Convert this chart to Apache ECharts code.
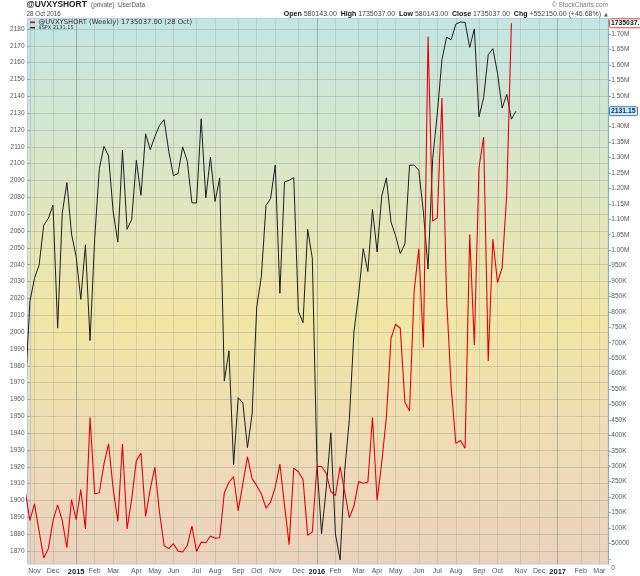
<!DOCTYPE html>
<html>
<head>
<meta charset="utf-8">
<script src="https://cdn.jsdelivr.net/npm/echarts@6/dist/echarts.min.js"></script>
<style>
html, body {margin: 0; padding: 0; background: #fff;}
#main {width: 640px; height: 576px;}
</style>
</head>
<body>
<div id="main"></div>
<script>
// weekly bars, bar 0 = week ending 31 Oct 2014 (first value is bar -1)
const spxWeekly = [
    1964.58, 2018.05, 2031.92, 2039.82, 2063.50, 2067.56, 2075.37, 2002.33, 2070.65, 2088.77,
    2058.20, 2044.81, 2019.42, 2051.82, 1994.99, 2055.47, 2096.99, 2110.30, 2104.50, 2071.26,
    2053.40, 2108.10, 2061.02, 2066.96, 2102.06, 2081.18, 2117.69, 2108.29, 2116.10, 2122.73,
    2126.06, 2107.39, 2092.83, 2094.11, 2109.99, 2101.49, 2076.78, 2076.62, 2126.64, 2079.65,
    2103.84, 2077.57, 2091.54, 1970.89, 1988.87, 1921.22, 1961.05, 1958.03, 1931.34, 1951.36,
    2014.89, 2033.11, 2075.15, 2079.36, 2099.20, 2023.04, 2089.17, 2090.11, 2091.69, 2012.37,
    2005.55, 2060.99, 2043.94, 1922.03, 1880.33, 1906.90, 1940.24, 1880.05, 1864.78, 1917.78,
    1948.05, 1999.99, 2022.19, 2049.58, 2035.94, 2072.78, 2047.60, 2080.73, 2091.58, 2065.30,
    2057.14, 2046.61, 2052.32, 2099.06, 2099.13, 2096.07, 2071.22, 2037.41, 2102.95, 2129.90,
    2161.74, 2175.03, 2173.60, 2182.87, 2184.05, 2183.87, 2169.04, 2179.98, 2127.81, 2139.16,
    2164.69, 2168.27, 2153.74, 2132.98, 2141.16, 2126.41, 2131.15
];
const uvxyShortWeekly = [
    220000, 124000, 178000, 89000, 3000, 33000, 124000, 175000, 124000, 36000,
    192000, 127000, 224000, 97000, 458000, 210000, 214000, 307000, 372000, 226000,
    121000, 372000, 97000, 194000, 318000, 343000, 137000, 226000, 297000, 151000,
    43000, 33000, 49000, 25000, 22000, 43000, 106000, 24000, 54000, 52000,
    74000, 67000, 68000, 214000, 248000, 266000, 156000, 243000, 331000, 259000,
    237000, 210000, 164000, 184000, 232000, 307000, 173000, 46000, 294000, 282000,
    257000, 76000, 87000, 300000, 299000, 277000, 218000, 205000, 299000, 216000,
    133000, 171000, 250000, 245000, 248000, 458000, 189000, 313000, 458000, 714000,
    760000, 747000, 507000, 480000, 867000, 1005000, 685000, 1692000, 1094000, 1105000,
    1493000, 846000, 555000, 374000, 383000, 358000, 1051000, 693000, 1266000, 1366000,
    641000, 1035000, 895000, 943000, 1182887, 1735037
];
// first bar of each month
const monthBars = [1, 5, 10, 14, 18, 23, 27, 31, 36, 40, 45, 49, 53, 58, 62, 66, 71, 75, 79, 84, 88, 92, 97, 101, 106, 110, 114, 119, 123];
const monthLabels = ['Nov', 'Dec', '2015', 'Feb', 'Mar', 'Apr', 'May', 'Jun', 'Jul', 'Aug', 'Sep', 'Oct', 'Nov', 'Dec',
    '2016', 'Feb', 'Mar', 'Apr', 'May', 'Jun', 'Jul', 'Aug', 'Sep', 'Oct', 'Nov', 'Dec', '2017', 'Feb', 'Mar'];
const spxTicks = [1870, 1880, 1890, 1900, 1910, 1920, 1930, 1940, 1950, 1960, 1970, 1980, 1990, 2000, 2010, 2020,
    2030, 2040, 2050, 2060, 2070, 2080, 2090, 2100, 2110, 2120, 2130, 2140, 2150, 2160, 2170, 2180];
const uvxyTicks = [0, 50000, 100000, 150000, 200000, 250000, 300000, 350000, 400000, 450000, 500000, 550000,
    600000, 650000, 700000, 750000, 800000, 850000, 900000, 950000, 1000000, 1050000, 1100000, 1150000,
    1200000, 1250000, 1300000, 1350000, 1400000, 1450000, 1500000, 1550000, 1600000, 1650000, 1700000];
// 1.45M is hidden behind the $SPX value box
const uvxyLabelValues = uvxyTicks.filter(function (v) { return v !== 1450000; });

const lastSpx = spxWeekly[spxWeekly.length - 1];
const lastUvxy = uvxyShortWeekly[uvxyShortWeekly.length - 1];

let myChart = echarts.init(document.getElementById('main'));

function isYear(label) {
    return /^\d{4}$/.test(label);
}

function uvxyLabel(v) {
    if (v === 0) return '{z|0}';
    if (v < 100000) return String(v);
    if (v < 1000000) return (v / 1000) + 'K';
    return (v / 1000000).toFixed(2) + 'M';
}

const bg = new echarts.graphic.LinearGradient(0, 0, 0, 1, [
    {offset: 0, color: '#c3e5e3'},
    {offset: 0.25, color: '#d8e6ca'},
    {offset: 0.55, color: '#f1e6a6'},
    {offset: 0.8, color: '#eedbb6'},
    {offset: 1, color: '#ebd2bf'}
]);

let option = {
    animation: false,
    grid: {
        left: 27.5, right: 31.7, top: 18.3, bottom: 10.7,
        show: true,
        backgroundColor: bg,
        borderColor: '#b4d0dc',
        borderWidth: 1
    },
    xAxis: {
        type: 'value',
        min: -0.51,
        max: 124.93,
        axisLine: {show: false},
        axisTick: {show: false, customValues: monthBars},
        axisLabel: {
            customValues: monthBars,
            margin: 4,
            fontFamily: 'Liberation Sans',
            fontSize: 7,
            color: '#555',
            formatter: function (v) {
                let label = monthLabels[monthBars.indexOf(Math.round(v))] || '';
                return isYear(label) ? '{y|' + label + '}' : label;
            },
            rich: {
                y: {fontWeight: 'bold', color: '#222', fontSize: 7.5, fontFamily: 'Liberation Sans'}
            }
        },
        splitLine: {
            show: true,
            lineStyle: {
                width: 1,
                color: monthLabels.map(function (l) {
                    return isYear(l) ? 'rgba(110,135,110,0.55)' : 'rgba(130,140,125,0.25)';
                })
            }
        }
    },
    yAxis: [
        {
            type: 'value',
            position: 'left',
            min: 1862.3,
            max: 2186.3,
            axisLine: {show: true, lineStyle: {color: '#a9cadb'}},
            axisTick: {show: true, length: 2.5, customValues: spxTicks, lineStyle: {color: '#999'}},
            axisLabel: {
                customValues: spxTicks,
                margin: 3,
                fontFamily: 'Liberation Sans',
                fontSize: 6.5,
                color: '#555',
                formatter: function (v) { return String(v); }
            },
            splitLine: {show: true, lineStyle: {color: 'rgba(120,130,115,0.25)', width: 1}}
        },
        {
            type: 'value',
            position: 'right',
            min: -16807,
            max: 1751130,
            axisLine: {show: true, lineStyle: {color: '#6fa6cc', type: 'dotted'}},
            axisTick: {show: true, length: 2.5, customValues: uvxyTicks, lineStyle: {color: '#999'}},
            axisLabel: {
                customValues: uvxyLabelValues,
                margin: 3,
                fontFamily: 'Liberation Sans',
                fontSize: 6.5,
                color: '#555',
                formatter: uvxyLabel,
                rich: {
                    z: {padding: [18, 0, 0, 0], fontSize: 6.5, color: '#555', fontFamily: 'Liberation Sans'}
                }
            },
            splitLine: {show: false}
        }
    ],
    series: [
        {
            name: '$SPX',
            type: 'line',
            yAxisIndex: 0,
            symbol: 'none',
            clip: true,
            lineStyle: {color: '#1e1e1e', width: 1},
            data: spxWeekly.map(function (v, k) { return [k - 1, v]; })
        },
        {
            name: '@UVXYSHORT',
            type: 'line',
            yAxisIndex: 1,
            symbol: 'none',
            clip: true,
            lineStyle: {color: '#e5000a', width: 1.1},
            data: uvxyShortWeekly.map(function (v, k) { return [k - 1, v]; })
        }
    ]
};
myChart.setOption(option);

//右侧的最新值标签
let yUvxy = myChart.convertToPixel({yAxisIndex: 1}, lastUvxy);
let ySpx = myChart.convertToPixel({yAxisIndex: 0}, lastSpx);

myChart.setOption({
    graphic: [
        {type: 'text', z: 100, style: {x: 26.5, y: 4.6, text: '@UVXYSHORT', font: 'bold 8.4px "Liberation Sans"', fill: '#222', textVerticalAlign: 'middle'}},
        {type: 'text', z: 100, style: {x: 91, y: 5, text: '(private)', font: '6.4px "Liberation Sans"', fill: '#555', textVerticalAlign: 'middle'}},
        {type: 'text', z: 100, style: {x: 118, y: 5, text: 'UserData', font: '6.4px "Liberation Sans"', fill: '#555', textVerticalAlign: 'middle'}},
        {type: 'text', z: 100, style: {x: 26.5, y: 14.3, text: '28 Oct 2016', font: '6.3px "Liberation Sans"', fill: '#444', textVerticalAlign: 'middle'}},
        {type: 'text', z: 100, style: {x: 608, y: 5.5, text: '© StockCharts.com', font: '6.5px "Liberation Sans"', fill: '#777', textAlign: 'right', textVerticalAlign: 'middle'}},
        {
            type: 'text', z: 100,
            style: {
                x: 601, y: 14.5,
                text: '{b|Open} 580143.00  {b|High} 1735037.00  {b|Low} 580143.00  {b|Close} 1735037.00  {b|Chg} +552150.00 (+46.68%)',
                font: '7px "Liberation Sans"',
                fill: '#444',
                textAlign: 'right',
                textVerticalAlign: 'middle',
                rich: {b: {fontWeight: 'bold', fill: '#111', fontSize: 7, fontFamily: 'Liberation Sans'}}
            }
        },
        {type: 'text', z: 100, style: {x: 606, y: 15, text: '▲', font: '5px "DejaVu Sans"', fill: '#2e8b2e', textAlign: 'center', textVerticalAlign: 'middle'}},
        {type: 'line', z: 100, shape: {x1: 30, y1: 22.3, x2: 35, y2: 22.3}, style: {stroke: '#e5000a', lineWidth: 1.6}},
        {type: 'text', z: 100, style: {x: 38.5, y: 22.5, text: '@UVXYSHORT (Weekly) 1735037.00 (28 Oct)', font: '6.8px "DejaVu Sans"', fill: '#333', textVerticalAlign: 'middle'}},
        {type: 'line', z: 100, shape: {x1: 30, y1: 27.7, x2: 35, y2: 27.7}, style: {stroke: '#222', lineWidth: 1.4}},
        {type: 'text', z: 100, style: {x: 38.5, y: 27.8, text: '$SPX 2131.15', font: '5px "DejaVu Sans"', fill: '#333', textVerticalAlign: 'middle'}},
        {type: 'rect', z: 100, shape: {x: 609.5, y: yUvxy - 4.5, width: 36, height: 9, r: 2}, style: {fill: '#fff', stroke: '#e04040', lineWidth: 1}},
        {type: 'text', z: 101, style: {x: 611, y: yUvxy, text: String(lastUvxy) + '.', font: 'bold 6.8px "Liberation Sans"', fill: '#111', textVerticalAlign: 'middle'}},
        {type: 'rect', z: 100, shape: {x: 609.5, y: ySpx - 4.5, width: 28, height: 9, r: 1}, style: {fill: '#cfe7f3', stroke: '#3d7fc2', lineWidth: 1}},
        {type: 'text', z: 101, style: {x: 611, y: ySpx, text: lastSpx.toFixed(2), font: 'bold 6.8px "Liberation Sans"', fill: '#0b2b5c', textVerticalAlign: 'middle'}}
    ]
});
</script>
</body>
</html>
